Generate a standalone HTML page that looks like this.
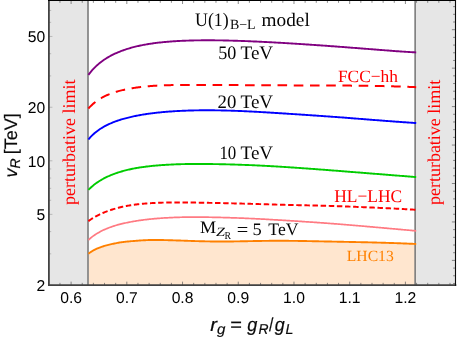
<!DOCTYPE html>
<html>
<head>
<meta charset="utf-8">
<title>U(1) B-L model</title>
<style>
html,body{margin:0;padding:0;background:#fff;}
body{width:457px;height:339px;overflow:hidden;font-family:"Liberation Sans",sans-serif;}
svg{display:block;opacity:0.999;will-change:transform;}
text{white-space:pre;text-rendering:geometricPrecision;}
</style>
</head>
<body>
<svg width="457" height="339" viewBox="0 0 457 339">
<rect x="0" y="0" width="457" height="339" fill="#ffffff"/>

<!-- grey perturbative-limit bands -->
<rect x="48.9" y="0.5" width="39.1" height="284.65" fill="#e6e6e6"/>
<rect x="415.15" y="0.5" width="40.25" height="284.65" fill="#e6e6e6"/>

<!-- LHC13 excluded region -->
<path d="M88.40 253.70 L89.40 252.95 L90.40 252.26 L91.40 251.61 L92.40 251.00 L93.40 250.44 L94.40 249.90 L95.40 249.40 L96.40 248.93 L97.40 248.48 L98.40 248.06 L99.40 247.66 L100.40 247.28 L101.40 246.91 L102.40 246.57 L103.40 246.25 L104.40 245.94 L105.40 245.65 L106.40 245.37 L107.40 245.11 L108.40 244.86 L109.40 244.61 L110.40 244.38 L111.40 244.16 L112.40 243.94 L113.40 243.72 L114.40 243.51 L115.40 243.31 L116.40 243.11 L117.40 242.92 L118.40 242.73 L119.40 242.56 L120.40 242.40 L121.40 242.25 L122.40 242.11 L123.40 241.98 L124.40 241.86 L125.40 241.74 L126.40 241.64 L127.40 241.53 L128.40 241.43 L129.40 241.34 L130.40 241.25 L131.40 241.17 L132.40 241.09 L133.40 241.01 L134.40 240.93 L135.40 240.86 L136.40 240.78 L137.40 240.70 L138.40 240.62 L139.40 240.55 L140.40 240.48 L141.40 240.41 L142.40 240.34 L143.40 240.28 L144.40 240.23 L145.40 240.18 L146.40 240.13 L147.40 240.09 L148.40 240.06 L149.40 240.04 L150.40 240.02 L151.40 240.01 L152.40 240.00 L153.40 239.99 L154.40 239.99 L155.40 239.99 L156.40 239.99 L157.40 239.99 L158.40 240.00 L159.40 240.01 L160.40 240.02 L161.40 240.03 L162.40 240.05 L163.40 240.06 L164.40 240.08 L165.40 240.10 L166.40 240.13 L167.40 240.15 L168.40 240.18 L169.40 240.20 L170.40 240.23 L171.40 240.26 L172.40 240.29 L173.40 240.33 L174.40 240.36 L175.40 240.39 L176.40 240.43 L177.40 240.46 L178.40 240.49 L179.40 240.53 L180.40 240.56 L181.40 240.60 L182.40 240.63 L183.40 240.67 L184.40 240.71 L185.40 240.74 L186.40 240.78 L187.40 240.81 L188.40 240.85 L189.40 240.88 L190.40 240.91 L191.40 240.95 L192.40 240.98 L193.40 241.01 L194.40 241.04 L195.40 241.08 L196.40 241.11 L197.40 241.14 L198.40 241.17 L199.40 241.19 L200.40 241.22 L201.40 241.25 L202.40 241.27 L203.40 241.30 L204.40 241.32 L205.40 241.34 L206.40 241.37 L207.40 241.39 L208.40 241.40 L209.40 241.42 L210.40 241.44 L211.40 241.45 L212.40 241.47 L213.40 241.48 L214.40 241.49 L215.40 241.50 L216.40 241.50 L217.40 241.51 L218.40 241.51 L219.40 241.52 L220.40 241.52 L221.40 241.52 L222.40 241.52 L223.40 241.52 L224.40 241.51 L225.40 241.51 L226.40 241.50 L227.40 241.49 L228.40 241.49 L229.40 241.48 L230.40 241.47 L231.40 241.45 L232.40 241.44 L233.40 241.43 L234.40 241.42 L235.40 241.40 L236.40 241.39 L237.40 241.37 L238.40 241.36 L239.40 241.34 L240.40 241.32 L241.40 241.30 L242.40 241.29 L243.40 241.27 L244.40 241.25 L245.40 241.23 L246.40 241.21 L247.40 241.19 L248.40 241.17 L249.40 241.15 L250.40 241.13 L251.40 241.11 L252.40 241.09 L253.40 241.07 L254.40 241.05 L255.40 241.04 L256.40 241.02 L257.40 241.00 L258.40 240.98 L259.40 240.96 L260.40 240.95 L261.40 240.93 L262.40 240.91 L263.40 240.90 L264.40 240.88 L265.40 240.87 L266.40 240.86 L267.40 240.84 L268.40 240.83 L269.40 240.82 L270.40 240.81 L271.40 240.80 L272.40 240.80 L273.40 240.79 L274.40 240.79 L275.40 240.78 L276.40 240.78 L277.40 240.78 L278.40 240.78 L279.40 240.78 L280.40 240.78 L281.40 240.78 L282.40 240.78 L283.40 240.79 L284.40 240.79 L285.40 240.80 L286.40 240.80 L287.40 240.81 L288.40 240.82 L289.40 240.83 L290.40 240.84 L291.40 240.85 L292.40 240.86 L293.40 240.87 L294.40 240.88 L295.40 240.90 L296.40 240.91 L297.40 240.92 L298.40 240.94 L299.40 240.95 L300.40 240.97 L301.40 240.99 L302.40 241.00 L303.40 241.02 L304.40 241.04 L305.40 241.05 L306.40 241.07 L307.40 241.09 L308.40 241.11 L309.40 241.13 L310.40 241.15 L311.40 241.17 L312.40 241.19 L313.40 241.21 L314.40 241.23 L315.40 241.25 L316.40 241.27 L317.40 241.29 L318.40 241.31 L319.40 241.33 L320.40 241.35 L321.40 241.37 L322.40 241.39 L323.40 241.41 L324.40 241.43 L325.40 241.45 L326.40 241.47 L327.40 241.49 L328.40 241.51 L329.40 241.53 L330.40 241.55 L331.40 241.57 L332.40 241.59 L333.40 241.61 L334.40 241.63 L335.40 241.65 L336.40 241.67 L337.40 241.69 L338.40 241.71 L339.40 241.73 L340.40 241.75 L341.40 241.77 L342.40 241.79 L343.40 241.81 L344.40 241.83 L345.40 241.85 L346.40 241.87 L347.40 241.89 L348.40 241.91 L349.40 241.93 L350.40 241.95 L351.40 241.97 L352.40 241.99 L353.40 242.01 L354.40 242.03 L355.40 242.06 L356.40 242.08 L357.40 242.10 L358.40 242.12 L359.40 242.14 L360.40 242.16 L361.40 242.19 L362.40 242.21 L363.40 242.23 L364.40 242.25 L365.40 242.28 L366.40 242.30 L367.40 242.32 L368.40 242.35 L369.40 242.37 L370.40 242.40 L371.40 242.42 L372.40 242.45 L373.40 242.47 L374.40 242.50 L375.40 242.52 L376.40 242.55 L377.40 242.58 L378.40 242.60 L379.40 242.63 L380.40 242.66 L381.40 242.69 L382.40 242.72 L383.40 242.75 L384.40 242.78 L385.40 242.81 L386.40 242.84 L387.40 242.87 L388.40 242.90 L389.40 242.93 L390.40 242.96 L391.40 243.00 L392.40 243.03 L393.40 243.06 L394.40 243.10 L395.40 243.13 L396.40 243.17 L397.40 243.20 L398.40 243.24 L399.40 243.28 L400.40 243.31 L401.40 243.35 L402.40 243.39 L403.40 243.43 L404.40 243.47 L405.40 243.51 L406.40 243.55 L407.40 243.59 L408.40 243.64 L409.40 243.68 L410.40 243.72 L411.40 243.77 L412.40 243.81 L413.40 243.86 L414.40 243.91 L415.40 243.95 L416.20 243.99 L416.20 285.15 L88.40 285.15 Z" fill="#ffe6cf" stroke="none"/>

<!-- band edge lines -->
<g stroke="#828282" stroke-width="1.7" fill="none">
<path d="M88.0 0.5 V285.15"/>
<path d="M415.15 0.5 V285.15"/>
</g>

<!-- curves -->
<g fill="none" stroke-linecap="butt" stroke-linejoin="round">
<path d="M88.40 253.70 L89.40 252.95 L90.40 252.26 L91.40 251.61 L92.40 251.00 L93.40 250.44 L94.40 249.90 L95.40 249.40 L96.40 248.93 L97.40 248.48 L98.40 248.06 L99.40 247.66 L100.40 247.28 L101.40 246.91 L102.40 246.57 L103.40 246.25 L104.40 245.94 L105.40 245.65 L106.40 245.37 L107.40 245.11 L108.40 244.86 L109.40 244.61 L110.40 244.38 L111.40 244.16 L112.40 243.94 L113.40 243.72 L114.40 243.51 L115.40 243.31 L116.40 243.11 L117.40 242.92 L118.40 242.73 L119.40 242.56 L120.40 242.40 L121.40 242.25 L122.40 242.11 L123.40 241.98 L124.40 241.86 L125.40 241.74 L126.40 241.64 L127.40 241.53 L128.40 241.43 L129.40 241.34 L130.40 241.25 L131.40 241.17 L132.40 241.09 L133.40 241.01 L134.40 240.93 L135.40 240.86 L136.40 240.78 L137.40 240.70 L138.40 240.62 L139.40 240.55 L140.40 240.48 L141.40 240.41 L142.40 240.34 L143.40 240.28 L144.40 240.23 L145.40 240.18 L146.40 240.13 L147.40 240.09 L148.40 240.06 L149.40 240.04 L150.40 240.02 L151.40 240.01 L152.40 240.00 L153.40 239.99 L154.40 239.99 L155.40 239.99 L156.40 239.99 L157.40 239.99 L158.40 240.00 L159.40 240.01 L160.40 240.02 L161.40 240.03 L162.40 240.05 L163.40 240.06 L164.40 240.08 L165.40 240.10 L166.40 240.13 L167.40 240.15 L168.40 240.18 L169.40 240.20 L170.40 240.23 L171.40 240.26 L172.40 240.29 L173.40 240.33 L174.40 240.36 L175.40 240.39 L176.40 240.43 L177.40 240.46 L178.40 240.49 L179.40 240.53 L180.40 240.56 L181.40 240.60 L182.40 240.63 L183.40 240.67 L184.40 240.71 L185.40 240.74 L186.40 240.78 L187.40 240.81 L188.40 240.85 L189.40 240.88 L190.40 240.91 L191.40 240.95 L192.40 240.98 L193.40 241.01 L194.40 241.04 L195.40 241.08 L196.40 241.11 L197.40 241.14 L198.40 241.17 L199.40 241.19 L200.40 241.22 L201.40 241.25 L202.40 241.27 L203.40 241.30 L204.40 241.32 L205.40 241.34 L206.40 241.37 L207.40 241.39 L208.40 241.40 L209.40 241.42 L210.40 241.44 L211.40 241.45 L212.40 241.47 L213.40 241.48 L214.40 241.49 L215.40 241.50 L216.40 241.50 L217.40 241.51 L218.40 241.51 L219.40 241.52 L220.40 241.52 L221.40 241.52 L222.40 241.52 L223.40 241.52 L224.40 241.51 L225.40 241.51 L226.40 241.50 L227.40 241.49 L228.40 241.49 L229.40 241.48 L230.40 241.47 L231.40 241.45 L232.40 241.44 L233.40 241.43 L234.40 241.42 L235.40 241.40 L236.40 241.39 L237.40 241.37 L238.40 241.36 L239.40 241.34 L240.40 241.32 L241.40 241.30 L242.40 241.29 L243.40 241.27 L244.40 241.25 L245.40 241.23 L246.40 241.21 L247.40 241.19 L248.40 241.17 L249.40 241.15 L250.40 241.13 L251.40 241.11 L252.40 241.09 L253.40 241.07 L254.40 241.05 L255.40 241.04 L256.40 241.02 L257.40 241.00 L258.40 240.98 L259.40 240.96 L260.40 240.95 L261.40 240.93 L262.40 240.91 L263.40 240.90 L264.40 240.88 L265.40 240.87 L266.40 240.86 L267.40 240.84 L268.40 240.83 L269.40 240.82 L270.40 240.81 L271.40 240.80 L272.40 240.80 L273.40 240.79 L274.40 240.79 L275.40 240.78 L276.40 240.78 L277.40 240.78 L278.40 240.78 L279.40 240.78 L280.40 240.78 L281.40 240.78 L282.40 240.78 L283.40 240.79 L284.40 240.79 L285.40 240.80 L286.40 240.80 L287.40 240.81 L288.40 240.82 L289.40 240.83 L290.40 240.84 L291.40 240.85 L292.40 240.86 L293.40 240.87 L294.40 240.88 L295.40 240.90 L296.40 240.91 L297.40 240.92 L298.40 240.94 L299.40 240.95 L300.40 240.97 L301.40 240.99 L302.40 241.00 L303.40 241.02 L304.40 241.04 L305.40 241.05 L306.40 241.07 L307.40 241.09 L308.40 241.11 L309.40 241.13 L310.40 241.15 L311.40 241.17 L312.40 241.19 L313.40 241.21 L314.40 241.23 L315.40 241.25 L316.40 241.27 L317.40 241.29 L318.40 241.31 L319.40 241.33 L320.40 241.35 L321.40 241.37 L322.40 241.39 L323.40 241.41 L324.40 241.43 L325.40 241.45 L326.40 241.47 L327.40 241.49 L328.40 241.51 L329.40 241.53 L330.40 241.55 L331.40 241.57 L332.40 241.59 L333.40 241.61 L334.40 241.63 L335.40 241.65 L336.40 241.67 L337.40 241.69 L338.40 241.71 L339.40 241.73 L340.40 241.75 L341.40 241.77 L342.40 241.79 L343.40 241.81 L344.40 241.83 L345.40 241.85 L346.40 241.87 L347.40 241.89 L348.40 241.91 L349.40 241.93 L350.40 241.95 L351.40 241.97 L352.40 241.99 L353.40 242.01 L354.40 242.03 L355.40 242.06 L356.40 242.08 L357.40 242.10 L358.40 242.12 L359.40 242.14 L360.40 242.16 L361.40 242.19 L362.40 242.21 L363.40 242.23 L364.40 242.25 L365.40 242.28 L366.40 242.30 L367.40 242.32 L368.40 242.35 L369.40 242.37 L370.40 242.40 L371.40 242.42 L372.40 242.45 L373.40 242.47 L374.40 242.50 L375.40 242.52 L376.40 242.55 L377.40 242.58 L378.40 242.60 L379.40 242.63 L380.40 242.66 L381.40 242.69 L382.40 242.72 L383.40 242.75 L384.40 242.78 L385.40 242.81 L386.40 242.84 L387.40 242.87 L388.40 242.90 L389.40 242.93 L390.40 242.96 L391.40 243.00 L392.40 243.03 L393.40 243.06 L394.40 243.10 L395.40 243.13 L396.40 243.17 L397.40 243.20 L398.40 243.24 L399.40 243.28 L400.40 243.31 L401.40 243.35 L402.40 243.39 L403.40 243.43 L404.40 243.47 L405.40 243.51 L406.40 243.55 L407.40 243.59 L408.40 243.64 L409.40 243.68 L410.40 243.72 L411.40 243.77 L412.40 243.81 L413.40 243.86 L414.40 243.91 L415.40 243.95 L416.20 243.99" stroke="#ff8000" stroke-width="1.9"/>
<path d="M88.40 240.08 L89.40 239.14 L90.40 238.26 L91.40 237.43 L92.40 236.65 L93.40 235.91 L94.40 235.21 L95.40 234.54 L96.40 233.90 L97.40 233.29 L98.40 232.71 L99.40 232.14 L100.40 231.59 L101.40 231.07 L102.40 230.57 L103.40 230.09 L104.40 229.62 L105.40 229.18 L106.40 228.75 L107.40 228.34 L108.40 227.94 L109.40 227.56 L110.40 227.19 L111.40 226.83 L112.40 226.49 L113.40 226.15 L114.40 225.83 L115.40 225.52 L116.40 225.22 L117.40 224.94 L118.40 224.66 L119.40 224.39 L120.40 224.14 L121.40 223.89 L122.40 223.65 L123.40 223.42 L124.40 223.20 L125.40 222.98 L126.40 222.77 L127.40 222.56 L128.40 222.36 L129.40 222.16 L130.40 221.97 L131.40 221.78 L132.40 221.60 L133.40 221.42 L134.40 221.25 L135.40 221.08 L136.40 220.92 L137.40 220.76 L138.40 220.61 L139.40 220.46 L140.40 220.32 L141.40 220.18 L142.40 220.04 L143.40 219.91 L144.40 219.78 L145.40 219.66 L146.40 219.54 L147.40 219.43 L148.40 219.32 L149.40 219.21 L150.40 219.10 L151.40 219.00 L152.40 218.90 L153.40 218.81 L154.40 218.72 L155.40 218.63 L156.40 218.54 L157.40 218.46 L158.40 218.38 L159.40 218.30 L160.40 218.23 L161.40 218.16 L162.40 218.09 L163.40 218.02 L164.40 217.96 L165.40 217.90 L166.40 217.84 L167.40 217.78 L168.40 217.73 L169.40 217.67 L170.40 217.63 L171.40 217.58 L172.40 217.53 L173.40 217.49 L174.40 217.45 L175.40 217.42 L176.40 217.38 L177.40 217.35 L178.40 217.32 L179.40 217.29 L180.40 217.27 L181.40 217.24 L182.40 217.22 L183.40 217.20 L184.40 217.18 L185.40 217.17 L186.40 217.15 L187.40 217.14 L188.40 217.13 L189.40 217.12 L190.40 217.11 L191.40 217.11 L192.40 217.10 L193.40 217.10 L194.40 217.10 L195.40 217.10 L196.40 217.10 L197.40 217.10 L198.40 217.11 L199.40 217.11 L200.40 217.12 L201.40 217.13 L202.40 217.14 L203.40 217.15 L204.40 217.16 L205.40 217.17 L206.40 217.18 L207.40 217.20 L208.40 217.21 L209.40 217.23 L210.40 217.24 L211.40 217.26 L212.40 217.28 L213.40 217.30 L214.40 217.32 L215.40 217.34 L216.40 217.36 L217.40 217.38 L218.40 217.41 L219.40 217.43 L220.40 217.46 L221.40 217.48 L222.40 217.51 L223.40 217.53 L224.40 217.56 L225.40 217.59 L226.40 217.62 L227.40 217.65 L228.40 217.68 L229.40 217.71 L230.40 217.74 L231.40 217.78 L232.40 217.81 L233.40 217.84 L234.40 217.88 L235.40 217.91 L236.40 217.95 L237.40 217.99 L238.40 218.02 L239.40 218.06 L240.40 218.10 L241.40 218.14 L242.40 218.18 L243.40 218.22 L244.40 218.26 L245.40 218.30 L246.40 218.35 L247.40 218.39 L248.40 218.43 L249.40 218.48 L250.40 218.52 L251.40 218.57 L252.40 218.62 L253.40 218.66 L254.40 218.71 L255.40 218.76 L256.40 218.81 L257.40 218.86 L258.40 218.91 L259.40 218.96 L260.40 219.01 L261.40 219.06 L262.40 219.11 L263.40 219.16 L264.40 219.22 L265.40 219.27 L266.40 219.33 L267.40 219.38 L268.40 219.44 L269.40 219.49 L270.40 219.55 L271.40 219.61 L272.40 219.67 L273.40 219.73 L274.40 219.79 L275.40 219.85 L276.40 219.91 L277.40 219.97 L278.40 220.03 L279.40 220.09 L280.40 220.15 L281.40 220.21 L282.40 220.27 L283.40 220.33 L284.40 220.39 L285.40 220.45 L286.40 220.51 L287.40 220.58 L288.40 220.64 L289.40 220.70 L290.40 220.76 L291.40 220.83 L292.40 220.89 L293.40 220.95 L294.40 221.02 L295.40 221.08 L296.40 221.14 L297.40 221.21 L298.40 221.27 L299.40 221.33 L300.40 221.40 L301.40 221.46 L302.40 221.53 L303.40 221.59 L304.40 221.66 L305.40 221.73 L306.40 221.79 L307.40 221.86 L308.40 221.93 L309.40 221.99 L310.40 222.06 L311.40 222.13 L312.40 222.20 L313.40 222.26 L314.40 222.33 L315.40 222.40 L316.40 222.47 L317.40 222.54 L318.40 222.61 L319.40 222.68 L320.40 222.75 L321.40 222.82 L322.40 222.90 L323.40 222.97 L324.40 223.04 L325.40 223.11 L326.40 223.19 L327.40 223.26 L328.40 223.33 L329.40 223.41 L330.40 223.48 L331.40 223.56 L332.40 223.63 L333.40 223.71 L334.40 223.79 L335.40 223.86 L336.40 223.94 L337.40 224.02 L338.40 224.10 L339.40 224.18 L340.40 224.26 L341.40 224.34 L342.40 224.42 L343.40 224.50 L344.40 224.58 L345.40 224.66 L346.40 224.74 L347.40 224.83 L348.40 224.91 L349.40 224.99 L350.40 225.08 L351.40 225.16 L352.40 225.24 L353.40 225.33 L354.40 225.41 L355.40 225.50 L356.40 225.58 L357.40 225.67 L358.40 225.75 L359.40 225.84 L360.40 225.92 L361.40 226.01 L362.40 226.10 L363.40 226.18 L364.40 226.27 L365.40 226.36 L366.40 226.44 L367.40 226.53 L368.40 226.62 L369.40 226.70 L370.40 226.79 L371.40 226.88 L372.40 226.97 L373.40 227.06 L374.40 227.14 L375.40 227.23 L376.40 227.32 L377.40 227.41 L378.40 227.50 L379.40 227.59 L380.40 227.67 L381.40 227.76 L382.40 227.85 L383.40 227.94 L384.40 228.03 L385.40 228.12 L386.40 228.21 L387.40 228.30 L388.40 228.39 L389.40 228.48 L390.40 228.57 L391.40 228.66 L392.40 228.74 L393.40 228.83 L394.40 228.92 L395.40 229.01 L396.40 229.10 L397.40 229.19 L398.40 229.28 L399.40 229.37 L400.40 229.46 L401.40 229.55 L402.40 229.64 L403.40 229.73 L404.40 229.82 L405.40 229.91 L406.40 230.00 L407.40 230.09 L408.40 230.18 L409.40 230.26 L410.40 230.35 L411.40 230.44 L412.40 230.53 L413.40 230.62 L414.40 230.71 L415.40 230.80 L416.20 230.87" stroke="#ff7a82" stroke-width="1.7"/>
<path d="M88.40 221.11 L89.40 220.40 L90.40 219.71 L91.40 219.05 L92.40 218.42 L93.40 217.81 L94.40 217.22 L95.40 216.65 L96.40 216.10 L97.40 215.57 L98.40 215.06 L99.40 214.57 L100.40 214.10 L101.40 213.64 L102.40 213.19 L103.40 212.76 L104.40 212.35 L105.40 211.95 L106.40 211.56 L107.40 211.18 L108.40 210.82 L109.40 210.47 L110.40 210.13 L111.40 209.80 L112.40 209.48 L113.40 209.17 L114.40 208.87 L115.40 208.58 L116.40 208.30 L117.40 208.04 L118.40 207.78 L119.40 207.52 L120.40 207.28 L121.40 207.05 L122.40 206.82 L123.40 206.61 L124.40 206.40 L125.40 206.20 L126.40 206.00 L127.40 205.82 L128.40 205.64 L129.40 205.47 L130.40 205.30 L131.40 205.15 L132.40 205.00 L133.40 204.85 L134.40 204.71 L135.40 204.58 L136.40 204.46 L137.40 204.33 L138.40 204.22 L139.40 204.11 L140.40 204.00 L141.40 203.90 L142.40 203.81 L143.40 203.71 L144.40 203.63 L145.40 203.54 L146.40 203.47 L147.40 203.39 L148.40 203.32 L149.40 203.25 L150.40 203.19 L151.40 203.13 L152.40 203.07 L153.40 203.02 L154.40 202.97 L155.40 202.92 L156.40 202.87 L157.40 202.83 L158.40 202.79 L159.40 202.75 L160.40 202.72 L161.40 202.68 L162.40 202.65 L163.40 202.62 L164.40 202.60 L165.40 202.57 L166.40 202.55 L167.40 202.53 L168.40 202.51 L169.40 202.49 L170.40 202.47 L171.40 202.46 L172.40 202.45 L173.40 202.44 L174.40 202.43 L175.40 202.42 L176.40 202.42 L177.40 202.41 L178.40 202.41 L179.40 202.41 L180.40 202.42 L181.40 202.42 L182.40 202.42 L183.40 202.43 L184.40 202.44 L185.40 202.45 L186.40 202.46 L187.40 202.47 L188.40 202.48 L189.40 202.49 L190.40 202.51 L191.40 202.52 L192.40 202.54 L193.40 202.55 L194.40 202.57 L195.40 202.59 L196.40 202.61 L197.40 202.62 L198.40 202.64 L199.40 202.66 L200.40 202.68 L201.40 202.70 L202.40 202.72 L203.40 202.74 L204.40 202.76 L205.40 202.78 L206.40 202.80 L207.40 202.81 L208.40 202.83 L209.40 202.85 L210.40 202.87 L211.40 202.89 L212.40 202.91 L213.40 202.93 L214.40 202.95 L215.40 202.97 L216.40 202.99 L217.40 203.01 L218.40 203.03 L219.40 203.05 L220.40 203.07 L221.40 203.09 L222.40 203.12 L223.40 203.14 L224.40 203.16 L225.40 203.19 L226.40 203.21 L227.40 203.23 L228.40 203.26 L229.40 203.28 L230.40 203.31 L231.40 203.33 L232.40 203.36 L233.40 203.38 L234.40 203.41 L235.40 203.43 L236.40 203.46 L237.40 203.49 L238.40 203.51 L239.40 203.54 L240.40 203.57 L241.40 203.59 L242.40 203.62 L243.40 203.65 L244.40 203.68 L245.40 203.70 L246.40 203.73 L247.40 203.76 L248.40 203.79 L249.40 203.81 L250.40 203.84 L251.40 203.87 L252.40 203.90 L253.40 203.93 L254.40 203.96 L255.40 203.98 L256.40 204.01 L257.40 204.04 L258.40 204.07 L259.40 204.10 L260.40 204.13 L261.40 204.16 L262.40 204.19 L263.40 204.22 L264.40 204.24 L265.40 204.27 L266.40 204.30 L267.40 204.33 L268.40 204.36 L269.40 204.39 L270.40 204.42 L271.40 204.45 L272.40 204.48 L273.40 204.51 L274.40 204.54 L275.40 204.57 L276.40 204.60 L277.40 204.63 L278.40 204.66 L279.40 204.69 L280.40 204.72 L281.40 204.75 L282.40 204.78 L283.40 204.80 L284.40 204.83 L285.40 204.86 L286.40 204.88 L287.40 204.91 L288.40 204.94 L289.40 204.96 L290.40 204.99 L291.40 205.01 L292.40 205.03 L293.40 205.06 L294.40 205.08 L295.40 205.10 L296.40 205.13 L297.40 205.15 L298.40 205.17 L299.40 205.19 L300.40 205.22 L301.40 205.24 L302.40 205.26 L303.40 205.28 L304.40 205.30 L305.40 205.32 L306.40 205.34 L307.40 205.37 L308.40 205.39 L309.40 205.41 L310.40 205.43 L311.40 205.45 L312.40 205.48 L313.40 205.50 L314.40 205.52 L315.40 205.54 L316.40 205.57 L317.40 205.59 L318.40 205.61 L319.40 205.64 L320.40 205.66 L321.40 205.68 L322.40 205.71 L323.40 205.74 L324.40 205.76 L325.40 205.79 L326.40 205.82 L327.40 205.84 L328.40 205.87 L329.40 205.90 L330.40 205.93 L331.40 205.96 L332.40 205.99 L333.40 206.02 L334.40 206.05 L335.40 206.09 L336.40 206.12 L337.40 206.16 L338.40 206.19 L339.40 206.23 L340.40 206.27 L341.40 206.30 L342.40 206.34 L343.40 206.38 L344.40 206.42 L345.40 206.46 L346.40 206.49 L347.40 206.53 L348.40 206.57 L349.40 206.61 L350.40 206.65 L351.40 206.69 L352.40 206.73 L353.40 206.77 L354.40 206.80 L355.40 206.84 L356.40 206.88 L357.40 206.92 L358.40 206.96 L359.40 207.00 L360.40 207.05 L361.40 207.09 L362.40 207.13 L363.40 207.17 L364.40 207.21 L365.40 207.25 L366.40 207.29 L367.40 207.34 L368.40 207.38 L369.40 207.42 L370.40 207.46 L371.40 207.51 L372.40 207.55 L373.40 207.59 L374.40 207.64 L375.40 207.68 L376.40 207.73 L377.40 207.77 L378.40 207.82 L379.40 207.86 L380.40 207.91 L381.40 207.96 L382.40 208.00 L383.40 208.05 L384.40 208.10 L385.40 208.14 L386.40 208.19 L387.40 208.24 L388.40 208.29 L389.40 208.34 L390.40 208.39 L391.40 208.44 L392.40 208.49 L393.40 208.54 L394.40 208.59 L395.40 208.64 L396.40 208.69 L397.40 208.75 L398.40 208.80 L399.40 208.85 L400.40 208.91 L401.40 208.96 L402.40 209.02 L403.40 209.07 L404.40 209.13 L405.40 209.18 L406.40 209.24 L407.40 209.30 L408.40 209.36 L409.40 209.41 L410.40 209.47 L411.40 209.53 L412.40 209.59 L413.40 209.65 L414.40 209.72 L415.40 209.78 L416.20 209.83" stroke="#ff0000" stroke-width="1.95" stroke-dasharray="5.47 2.657"/>
<path d="M88.40 189.95 L89.40 188.95 L90.40 187.99 L91.40 187.07 L92.40 186.20 L93.40 185.36 L94.40 184.57 L95.40 183.80 L96.40 183.07 L97.40 182.37 L98.40 181.70 L99.40 181.06 L100.40 180.44 L101.40 179.84 L102.40 179.27 L103.40 178.71 L104.40 178.18 L105.40 177.67 L106.40 177.18 L107.40 176.70 L108.40 176.24 L109.40 175.80 L110.40 175.37 L111.40 174.96 L112.40 174.56 L113.40 174.17 L114.40 173.80 L115.40 173.44 L116.40 173.09 L117.40 172.75 L118.40 172.42 L119.40 172.11 L120.40 171.80 L121.40 171.50 L122.40 171.22 L123.40 170.94 L124.40 170.67 L125.40 170.41 L126.40 170.16 L127.40 169.91 L128.40 169.68 L129.40 169.45 L130.40 169.22 L131.40 169.01 L132.40 168.80 L133.40 168.60 L134.40 168.41 L135.40 168.22 L136.40 168.04 L137.40 167.87 L138.40 167.70 L139.40 167.54 L140.40 167.39 L141.40 167.24 L142.40 167.09 L143.40 166.95 L144.40 166.82 L145.40 166.69 L146.40 166.56 L147.40 166.44 L148.40 166.32 L149.40 166.21 L150.40 166.10 L151.40 166.00 L152.40 165.90 L153.40 165.80 L154.40 165.70 L155.40 165.61 L156.40 165.53 L157.40 165.44 L158.40 165.36 L159.40 165.29 L160.40 165.21 L161.40 165.14 L162.40 165.07 L163.40 165.00 L164.40 164.94 L165.40 164.87 L166.40 164.81 L167.40 164.75 L168.40 164.70 L169.40 164.64 L170.40 164.59 L171.40 164.54 L172.40 164.49 L173.40 164.44 L174.40 164.40 L175.40 164.36 L176.40 164.32 L177.40 164.28 L178.40 164.25 L179.40 164.22 L180.40 164.18 L181.40 164.16 L182.40 164.13 L183.40 164.10 L184.40 164.08 L185.40 164.06 L186.40 164.04 L187.40 164.02 L188.40 164.01 L189.40 163.99 L190.40 163.98 L191.40 163.97 L192.40 163.96 L193.40 163.95 L194.40 163.94 L195.40 163.94 L196.40 163.94 L197.40 163.93 L198.40 163.93 L199.40 163.93 L200.40 163.94 L201.40 163.94 L202.40 163.94 L203.40 163.95 L204.40 163.96 L205.40 163.97 L206.40 163.98 L207.40 163.99 L208.40 164.00 L209.40 164.01 L210.40 164.03 L211.40 164.04 L212.40 164.06 L213.40 164.08 L214.40 164.09 L215.40 164.11 L216.40 164.13 L217.40 164.15 L218.40 164.17 L219.40 164.19 L220.40 164.21 L221.40 164.23 L222.40 164.25 L223.40 164.28 L224.40 164.30 L225.40 164.32 L226.40 164.35 L227.40 164.37 L228.40 164.40 L229.40 164.42 L230.40 164.45 L231.40 164.48 L232.40 164.51 L233.40 164.54 L234.40 164.57 L235.40 164.60 L236.40 164.63 L237.40 164.66 L238.40 164.69 L239.40 164.72 L240.40 164.76 L241.40 164.79 L242.40 164.83 L243.40 164.86 L244.40 164.90 L245.40 164.94 L246.40 164.97 L247.40 165.01 L248.40 165.05 L249.40 165.09 L250.40 165.13 L251.40 165.17 L252.40 165.22 L253.40 165.26 L254.40 165.30 L255.40 165.35 L256.40 165.39 L257.40 165.44 L258.40 165.49 L259.40 165.53 L260.40 165.58 L261.40 165.63 L262.40 165.68 L263.40 165.73 L264.40 165.79 L265.40 165.84 L266.40 165.89 L267.40 165.95 L268.40 166.00 L269.40 166.06 L270.40 166.12 L271.40 166.18 L272.40 166.24 L273.40 166.29 L274.40 166.35 L275.40 166.41 L276.40 166.47 L277.40 166.54 L278.40 166.60 L279.40 166.66 L280.40 166.72 L281.40 166.79 L282.40 166.85 L283.40 166.91 L284.40 166.98 L285.40 167.04 L286.40 167.11 L287.40 167.17 L288.40 167.24 L289.40 167.30 L290.40 167.37 L291.40 167.44 L292.40 167.51 L293.40 167.57 L294.40 167.64 L295.40 167.71 L296.40 167.78 L297.40 167.85 L298.40 167.92 L299.40 167.99 L300.40 168.06 L301.40 168.13 L302.40 168.20 L303.40 168.27 L304.40 168.34 L305.40 168.41 L306.40 168.48 L307.40 168.56 L308.40 168.63 L309.40 168.70 L310.40 168.77 L311.40 168.85 L312.40 168.92 L313.40 168.99 L314.40 169.07 L315.40 169.14 L316.40 169.22 L317.40 169.29 L318.40 169.37 L319.40 169.44 L320.40 169.52 L321.40 169.59 L322.40 169.67 L323.40 169.74 L324.40 169.82 L325.40 169.90 L326.40 169.97 L327.40 170.05 L328.40 170.13 L329.40 170.20 L330.40 170.28 L331.40 170.36 L332.40 170.44 L333.40 170.51 L334.40 170.59 L335.40 170.67 L336.40 170.75 L337.40 170.82 L338.40 170.90 L339.40 170.98 L340.40 171.06 L341.40 171.14 L342.40 171.22 L343.40 171.30 L344.40 171.38 L345.40 171.45 L346.40 171.53 L347.40 171.61 L348.40 171.69 L349.40 171.77 L350.40 171.85 L351.40 171.93 L352.40 172.01 L353.40 172.09 L354.40 172.17 L355.40 172.25 L356.40 172.33 L357.40 172.41 L358.40 172.49 L359.40 172.57 L360.40 172.65 L361.40 172.72 L362.40 172.80 L363.40 172.88 L364.40 172.96 L365.40 173.04 L366.40 173.12 L367.40 173.20 L368.40 173.28 L369.40 173.36 L370.40 173.44 L371.40 173.52 L372.40 173.60 L373.40 173.68 L374.40 173.76 L375.40 173.84 L376.40 173.92 L377.40 174.00 L378.40 174.07 L379.40 174.15 L380.40 174.23 L381.40 174.31 L382.40 174.39 L383.40 174.47 L384.40 174.55 L385.40 174.63 L386.40 174.71 L387.40 174.79 L388.40 174.87 L389.40 174.95 L390.40 175.03 L391.40 175.11 L392.40 175.19 L393.40 175.27 L394.40 175.35 L395.40 175.43 L396.40 175.51 L397.40 175.59 L398.40 175.67 L399.40 175.75 L400.40 175.83 L401.40 175.91 L402.40 175.99 L403.40 176.07 L404.40 176.16 L405.40 176.24 L406.40 176.32 L407.40 176.40 L408.40 176.48 L409.40 176.56 L410.40 176.64 L411.40 176.72 L412.40 176.80 L413.40 176.89 L414.40 176.97 L415.40 177.05 L416.20 177.11" stroke="#00cc00" stroke-width="1.9"/>
<path d="M88.40 139.49 L89.40 138.29 L90.40 137.17 L91.40 136.11 L92.40 135.12 L93.40 134.19 L94.40 133.30 L95.40 132.47 L96.40 131.67 L97.40 130.91 L98.40 130.19 L99.40 129.49 L100.40 128.83 L101.40 128.20 L102.40 127.59 L103.40 127.01 L104.40 126.45 L105.40 125.91 L106.40 125.39 L107.40 124.89 L108.40 124.41 L109.40 123.94 L110.40 123.50 L111.40 123.06 L112.40 122.64 L113.40 122.24 L114.40 121.84 L115.40 121.47 L116.40 121.10 L117.40 120.75 L118.40 120.41 L119.40 120.08 L120.40 119.76 L121.40 119.45 L122.40 119.16 L123.40 118.87 L124.40 118.59 L125.40 118.32 L126.40 118.06 L127.40 117.80 L128.40 117.55 L129.40 117.31 L130.40 117.07 L131.40 116.84 L132.40 116.61 L133.40 116.39 L134.40 116.18 L135.40 115.97 L136.40 115.77 L137.40 115.58 L138.40 115.39 L139.40 115.20 L140.40 115.03 L141.40 114.85 L142.40 114.68 L143.40 114.52 L144.40 114.36 L145.40 114.20 L146.40 114.05 L147.40 113.90 L148.40 113.76 L149.40 113.62 L150.40 113.49 L151.40 113.36 L152.40 113.23 L153.40 113.11 L154.40 112.99 L155.40 112.87 L156.40 112.76 L157.40 112.65 L158.40 112.54 L159.40 112.44 L160.40 112.34 L161.40 112.24 L162.40 112.15 L163.40 112.06 L164.40 111.97 L165.40 111.89 L166.40 111.80 L167.40 111.72 L168.40 111.65 L169.40 111.57 L170.40 111.50 L171.40 111.43 L172.40 111.36 L173.40 111.30 L174.40 111.24 L175.40 111.17 L176.40 111.12 L177.40 111.06 L178.40 111.00 L179.40 110.95 L180.40 110.90 L181.40 110.85 L182.40 110.81 L183.40 110.76 L184.40 110.72 L185.40 110.68 L186.40 110.64 L187.40 110.60 L188.40 110.57 L189.40 110.54 L190.40 110.51 L191.40 110.48 L192.40 110.45 L193.40 110.43 L194.40 110.40 L195.40 110.38 L196.40 110.36 L197.40 110.34 L198.40 110.33 L199.40 110.31 L200.40 110.30 L201.40 110.29 L202.40 110.28 L203.40 110.28 L204.40 110.27 L205.40 110.27 L206.40 110.27 L207.40 110.27 L208.40 110.27 L209.40 110.27 L210.40 110.28 L211.40 110.29 L212.40 110.30 L213.40 110.31 L214.40 110.32 L215.40 110.33 L216.40 110.34 L217.40 110.36 L218.40 110.38 L219.40 110.39 L220.40 110.41 L221.40 110.43 L222.40 110.46 L223.40 110.48 L224.40 110.50 L225.40 110.53 L226.40 110.55 L227.40 110.58 L228.40 110.61 L229.40 110.64 L230.40 110.67 L231.40 110.70 L232.40 110.73 L233.40 110.77 L234.40 110.80 L235.40 110.84 L236.40 110.87 L237.40 110.91 L238.40 110.95 L239.40 110.99 L240.40 111.03 L241.40 111.07 L242.40 111.12 L243.40 111.16 L244.40 111.20 L245.40 111.25 L246.40 111.29 L247.40 111.34 L248.40 111.39 L249.40 111.44 L250.40 111.49 L251.40 111.54 L252.40 111.59 L253.40 111.64 L254.40 111.69 L255.40 111.74 L256.40 111.80 L257.40 111.85 L258.40 111.91 L259.40 111.96 L260.40 112.02 L261.40 112.08 L262.40 112.14 L263.40 112.19 L264.40 112.25 L265.40 112.31 L266.40 112.37 L267.40 112.44 L268.40 112.50 L269.40 112.56 L270.40 112.62 L271.40 112.69 L272.40 112.75 L273.40 112.81 L274.40 112.88 L275.40 112.94 L276.40 113.00 L277.40 113.06 L278.40 113.13 L279.40 113.19 L280.40 113.25 L281.40 113.32 L282.40 113.38 L283.40 113.45 L284.40 113.51 L285.40 113.57 L286.40 113.64 L287.40 113.70 L288.40 113.76 L289.40 113.83 L290.40 113.89 L291.40 113.96 L292.40 114.02 L293.40 114.09 L294.40 114.15 L295.40 114.22 L296.40 114.28 L297.40 114.35 L298.40 114.41 L299.40 114.48 L300.40 114.54 L301.40 114.61 L302.40 114.68 L303.40 114.74 L304.40 114.81 L305.40 114.88 L306.40 114.95 L307.40 115.01 L308.40 115.08 L309.40 115.15 L310.40 115.22 L311.40 115.29 L312.40 115.36 L313.40 115.43 L314.40 115.50 L315.40 115.57 L316.40 115.64 L317.40 115.71 L318.40 115.78 L319.40 115.85 L320.40 115.92 L321.40 116.00 L322.40 116.07 L323.40 116.14 L324.40 116.21 L325.40 116.28 L326.40 116.35 L327.40 116.42 L328.40 116.49 L329.40 116.56 L330.40 116.63 L331.40 116.70 L332.40 116.77 L333.40 116.84 L334.40 116.91 L335.40 116.98 L336.40 117.06 L337.40 117.13 L338.40 117.20 L339.40 117.27 L340.40 117.34 L341.40 117.42 L342.40 117.49 L343.40 117.56 L344.40 117.64 L345.40 117.72 L346.40 117.79 L347.40 117.87 L348.40 117.95 L349.40 118.03 L350.40 118.11 L351.40 118.19 L352.40 118.27 L353.40 118.35 L354.40 118.43 L355.40 118.51 L356.40 118.59 L357.40 118.67 L358.40 118.75 L359.40 118.83 L360.40 118.91 L361.40 118.98 L362.40 119.06 L363.40 119.14 L364.40 119.22 L365.40 119.30 L366.40 119.38 L367.40 119.46 L368.40 119.54 L369.40 119.62 L370.40 119.70 L371.40 119.78 L372.40 119.85 L373.40 119.93 L374.40 120.01 L375.40 120.09 L376.40 120.17 L377.40 120.24 L378.40 120.32 L379.40 120.40 L380.40 120.47 L381.40 120.55 L382.40 120.63 L383.40 120.70 L384.40 120.78 L385.40 120.86 L386.40 120.93 L387.40 121.01 L388.40 121.08 L389.40 121.16 L390.40 121.23 L391.40 121.31 L392.40 121.38 L393.40 121.46 L394.40 121.53 L395.40 121.60 L396.40 121.68 L397.40 121.75 L398.40 121.82 L399.40 121.89 L400.40 121.97 L401.40 122.04 L402.40 122.11 L403.40 122.18 L404.40 122.25 L405.40 122.32 L406.40 122.39 L407.40 122.46 L408.40 122.53 L409.40 122.60 L410.40 122.67 L411.40 122.73 L412.40 122.80 L413.40 122.87 L414.40 122.94 L415.40 123.00 L416.20 123.06" stroke="#0000ff" stroke-width="1.9"/>
<path d="M88.40 108.51 L89.40 107.41 L90.40 106.38 L91.40 105.41 L92.40 104.48 L93.40 103.61 L94.40 102.78 L95.40 101.99 L96.40 101.24 L97.40 100.53 L98.40 99.85 L99.40 99.20 L100.40 98.59 L101.40 98.00 L102.40 97.44 L103.40 96.90 L104.40 96.39 L105.40 95.90 L106.40 95.44 L107.40 94.99 L108.40 94.56 L109.40 94.15 L110.40 93.76 L111.40 93.38 L112.40 93.02 L113.40 92.68 L114.40 92.34 L115.40 92.03 L116.40 91.72 L117.40 91.43 L118.40 91.15 L119.40 90.88 L120.40 90.62 L121.40 90.37 L122.40 90.14 L123.40 89.91 L124.40 89.69 L125.40 89.48 L126.40 89.27 L127.40 89.08 L128.40 88.89 L129.40 88.70 L130.40 88.53 L131.40 88.36 L132.40 88.19 L133.40 88.03 L134.40 87.88 L135.40 87.73 L136.40 87.59 L137.40 87.45 L138.40 87.32 L139.40 87.19 L140.40 87.07 L141.40 86.95 L142.40 86.83 L143.40 86.72 L144.40 86.62 L145.40 86.51 L146.40 86.42 L147.40 86.32 L148.40 86.24 L149.40 86.15 L150.40 86.07 L151.40 85.99 L152.40 85.92 L153.40 85.85 L154.40 85.78 L155.40 85.72 L156.40 85.66 L157.40 85.60 L158.40 85.55 L159.40 85.51 L160.40 85.46 L161.40 85.42 L162.40 85.38 L163.40 85.34 L164.40 85.31 L165.40 85.27 L166.40 85.24 L167.40 85.21 L168.40 85.18 L169.40 85.16 L170.40 85.13 L171.40 85.11 L172.40 85.09 L173.40 85.06 L174.40 85.05 L175.40 85.03 L176.40 85.01 L177.40 85.00 L178.40 84.98 L179.40 84.97 L180.40 84.96 L181.40 84.94 L182.40 84.93 L183.40 84.93 L184.40 84.92 L185.40 84.91 L186.40 84.90 L187.40 84.90 L188.40 84.89 L189.40 84.89 L190.40 84.89 L191.40 84.88 L192.40 84.88 L193.40 84.88 L194.40 84.88 L195.40 84.88 L196.40 84.88 L197.40 84.88 L198.40 84.88 L199.40 84.88 L200.40 84.88 L201.40 84.89 L202.40 84.89 L203.40 84.89 L204.40 84.90 L205.40 84.90 L206.40 84.90 L207.40 84.91 L208.40 84.91 L209.40 84.92 L210.40 84.92 L211.40 84.93 L212.40 84.93 L213.40 84.94 L214.40 84.95 L215.40 84.95 L216.40 84.96 L217.40 84.97 L218.40 84.97 L219.40 84.98 L220.40 84.99 L221.40 84.99 L222.40 85.00 L223.40 85.01 L224.40 85.01 L225.40 85.02 L226.40 85.03 L227.40 85.04 L228.40 85.04 L229.40 85.05 L230.40 85.06 L231.40 85.07 L232.40 85.07 L233.40 85.08 L234.40 85.09 L235.40 85.10 L236.40 85.10 L237.40 85.11 L238.40 85.12 L239.40 85.12 L240.40 85.13 L241.40 85.14 L242.40 85.15 L243.40 85.15 L244.40 85.16 L245.40 85.17 L246.40 85.17 L247.40 85.18 L248.40 85.19 L249.40 85.19 L250.40 85.20 L251.40 85.20 L252.40 85.21 L253.40 85.22 L254.40 85.22 L255.40 85.23 L256.40 85.23 L257.40 85.24 L258.40 85.25 L259.40 85.25 L260.40 85.26 L261.40 85.26 L262.40 85.27 L263.40 85.27 L264.40 85.28 L265.40 85.28 L266.40 85.29 L267.40 85.29 L268.40 85.29 L269.40 85.30 L270.40 85.30 L271.40 85.31 L272.40 85.31 L273.40 85.32 L274.40 85.32 L275.40 85.32 L276.40 85.33 L277.40 85.33 L278.40 85.33 L279.40 85.34 L280.40 85.34 L281.40 85.34 L282.40 85.35 L283.40 85.35 L284.40 85.35 L285.40 85.36 L286.40 85.36 L287.40 85.36 L288.40 85.37 L289.40 85.37 L290.40 85.37 L291.40 85.37 L292.40 85.38 L293.40 85.38 L294.40 85.38 L295.40 85.38 L296.40 85.39 L297.40 85.39 L298.40 85.39 L299.40 85.39 L300.40 85.40 L301.40 85.40 L302.40 85.40 L303.40 85.40 L304.40 85.41 L305.40 85.41 L306.40 85.41 L307.40 85.41 L308.40 85.42 L309.40 85.42 L310.40 85.42 L311.40 85.42 L312.40 85.43 L313.40 85.43 L314.40 85.43 L315.40 85.44 L316.40 85.44 L317.40 85.44 L318.40 85.44 L319.40 85.45 L320.40 85.45 L321.40 85.45 L322.40 85.46 L323.40 85.46 L324.40 85.46 L325.40 85.47 L326.40 85.47 L327.40 85.48 L328.40 85.48 L329.40 85.48 L330.40 85.49 L331.40 85.49 L332.40 85.50 L333.40 85.50 L334.40 85.51 L335.40 85.51 L336.40 85.52 L337.40 85.52 L338.40 85.53 L339.40 85.54 L340.40 85.54 L341.40 85.55 L342.40 85.56 L343.40 85.56 L344.40 85.57 L345.40 85.58 L346.40 85.58 L347.40 85.59 L348.40 85.60 L349.40 85.61 L350.40 85.62 L351.40 85.63 L352.40 85.64 L353.40 85.65 L354.40 85.66 L355.40 85.67 L356.40 85.68 L357.40 85.69 L358.40 85.70 L359.40 85.71 L360.40 85.72 L361.40 85.73 L362.40 85.75 L363.40 85.76 L364.40 85.77 L365.40 85.79 L366.40 85.80 L367.40 85.82 L368.40 85.83 L369.40 85.85 L370.40 85.86 L371.40 85.88 L372.40 85.90 L373.40 85.91 L374.40 85.93 L375.40 85.95 L376.40 85.97 L377.40 85.99 L378.40 86.01 L379.40 86.03 L380.40 86.05 L381.40 86.07 L382.40 86.09 L383.40 86.12 L384.40 86.14 L385.40 86.16 L386.40 86.19 L387.40 86.21 L388.40 86.24 L389.40 86.26 L390.40 86.29 L391.40 86.31 L392.40 86.34 L393.40 86.37 L394.40 86.40 L395.40 86.43 L396.40 86.46 L397.40 86.49 L398.40 86.52 L399.40 86.55 L400.40 86.59 L401.40 86.62 L402.40 86.65 L403.40 86.69 L404.40 86.72 L405.40 86.76 L406.40 86.80 L407.40 86.84 L408.40 86.87 L409.40 86.91 L410.40 86.95 L411.40 86.99 L412.40 87.04 L413.40 87.08 L414.40 87.12 L415.40 87.17 L416.20 87.20" stroke="#ff0000" stroke-width="2.0" stroke-dasharray="9.6 6.63"/>
<path d="M88.40 74.89 L89.40 73.56 L90.40 72.29 L91.40 71.09 L92.40 69.95 L93.40 68.86 L94.40 67.83 L95.40 66.84 L96.40 65.89 L97.40 64.98 L98.40 64.11 L99.40 63.28 L100.40 62.48 L101.40 61.71 L102.40 60.98 L103.40 60.27 L104.40 59.58 L105.40 58.92 L106.40 58.29 L107.40 57.68 L108.40 57.09 L109.40 56.52 L110.40 55.96 L111.40 55.43 L112.40 54.92 L113.40 54.42 L114.40 53.94 L115.40 53.47 L116.40 53.02 L117.40 52.59 L118.40 52.16 L119.40 51.76 L120.40 51.36 L121.40 50.97 L122.40 50.60 L123.40 50.24 L124.40 49.89 L125.40 49.55 L126.40 49.22 L127.40 48.90 L128.40 48.59 L129.40 48.29 L130.40 48.00 L131.40 47.71 L132.40 47.44 L133.40 47.17 L134.40 46.92 L135.40 46.67 L136.40 46.42 L137.40 46.19 L138.40 45.96 L139.40 45.74 L140.40 45.53 L141.40 45.33 L142.40 45.13 L143.40 44.93 L144.40 44.75 L145.40 44.56 L146.40 44.39 L147.40 44.22 L148.40 44.05 L149.40 43.90 L150.40 43.74 L151.40 43.59 L152.40 43.45 L153.40 43.31 L154.40 43.17 L155.40 43.04 L156.40 42.92 L157.40 42.79 L158.40 42.67 L159.40 42.56 L160.40 42.45 L161.40 42.34 L162.40 42.24 L163.40 42.14 L164.40 42.04 L165.40 41.95 L166.40 41.86 L167.40 41.77 L168.40 41.69 L169.40 41.61 L170.40 41.53 L171.40 41.45 L172.40 41.38 L173.40 41.31 L174.40 41.24 L175.40 41.18 L176.40 41.12 L177.40 41.06 L178.40 41.00 L179.40 40.95 L180.40 40.90 L181.40 40.85 L182.40 40.81 L183.40 40.76 L184.40 40.72 L185.40 40.68 L186.40 40.65 L187.40 40.61 L188.40 40.58 L189.40 40.55 L190.40 40.52 L191.40 40.49 L192.40 40.47 L193.40 40.45 L194.40 40.42 L195.40 40.40 L196.40 40.39 L197.40 40.37 L198.40 40.36 L199.40 40.34 L200.40 40.33 L201.40 40.32 L202.40 40.32 L203.40 40.31 L204.40 40.30 L205.40 40.30 L206.40 40.30 L207.40 40.29 L208.40 40.29 L209.40 40.30 L210.40 40.30 L211.40 40.30 L212.40 40.31 L213.40 40.31 L214.40 40.32 L215.40 40.33 L216.40 40.34 L217.40 40.35 L218.40 40.36 L219.40 40.38 L220.40 40.39 L221.40 40.41 L222.40 40.42 L223.40 40.44 L224.40 40.46 L225.40 40.48 L226.40 40.51 L227.40 40.53 L228.40 40.55 L229.40 40.58 L230.40 40.60 L231.40 40.63 L232.40 40.66 L233.40 40.68 L234.40 40.71 L235.40 40.74 L236.40 40.78 L237.40 40.81 L238.40 40.84 L239.40 40.87 L240.40 40.91 L241.40 40.94 L242.40 40.98 L243.40 41.02 L244.40 41.06 L245.40 41.09 L246.40 41.13 L247.40 41.17 L248.40 41.21 L249.40 41.25 L250.40 41.30 L251.40 41.34 L252.40 41.38 L253.40 41.43 L254.40 41.47 L255.40 41.52 L256.40 41.56 L257.40 41.61 L258.40 41.65 L259.40 41.70 L260.40 41.75 L261.40 41.80 L262.40 41.85 L263.40 41.90 L264.40 41.95 L265.40 42.00 L266.40 42.05 L267.40 42.10 L268.40 42.15 L269.40 42.20 L270.40 42.26 L271.40 42.31 L272.40 42.36 L273.40 42.42 L274.40 42.47 L275.40 42.53 L276.40 42.58 L277.40 42.64 L278.40 42.69 L279.40 42.75 L280.40 42.81 L281.40 42.87 L282.40 42.92 L283.40 42.98 L284.40 43.04 L285.40 43.10 L286.40 43.16 L287.40 43.22 L288.40 43.28 L289.40 43.34 L290.40 43.40 L291.40 43.46 L292.40 43.53 L293.40 43.59 L294.40 43.65 L295.40 43.71 L296.40 43.78 L297.40 43.84 L298.40 43.90 L299.40 43.97 L300.40 44.03 L301.40 44.10 L302.40 44.16 L303.40 44.23 L304.40 44.29 L305.40 44.36 L306.40 44.43 L307.40 44.49 L308.40 44.56 L309.40 44.63 L310.40 44.70 L311.40 44.76 L312.40 44.83 L313.40 44.90 L314.40 44.97 L315.40 45.04 L316.40 45.11 L317.40 45.18 L318.40 45.25 L319.40 45.32 L320.40 45.39 L321.40 45.46 L322.40 45.53 L323.40 45.60 L324.40 45.67 L325.40 45.74 L326.40 45.82 L327.40 45.89 L328.40 45.96 L329.40 46.03 L330.40 46.10 L331.40 46.18 L332.40 46.25 L333.40 46.32 L334.40 46.40 L335.40 46.47 L336.40 46.55 L337.40 46.62 L338.40 46.69 L339.40 46.77 L340.40 46.84 L341.40 46.92 L342.40 46.99 L343.40 47.07 L344.40 47.14 L345.40 47.22 L346.40 47.30 L347.40 47.37 L348.40 47.45 L349.40 47.53 L350.40 47.60 L351.40 47.68 L352.40 47.76 L353.40 47.83 L354.40 47.91 L355.40 47.99 L356.40 48.07 L357.40 48.14 L358.40 48.22 L359.40 48.30 L360.40 48.38 L361.40 48.45 L362.40 48.53 L363.40 48.61 L364.40 48.69 L365.40 48.77 L366.40 48.84 L367.40 48.92 L368.40 49.00 L369.40 49.08 L370.40 49.16 L371.40 49.24 L372.40 49.31 L373.40 49.39 L374.40 49.47 L375.40 49.55 L376.40 49.63 L377.40 49.71 L378.40 49.78 L379.40 49.86 L380.40 49.94 L381.40 50.02 L382.40 50.10 L383.40 50.17 L384.40 50.25 L385.40 50.33 L386.40 50.41 L387.40 50.48 L388.40 50.56 L389.40 50.64 L390.40 50.72 L391.40 50.79 L392.40 50.87 L393.40 50.95 L394.40 51.02 L395.40 51.10 L396.40 51.18 L397.40 51.25 L398.40 51.32 L399.40 51.39 L400.40 51.46 L401.40 51.53 L402.40 51.59 L403.40 51.66 L404.40 51.72 L405.40 51.78 L406.40 51.85 L407.40 51.91 L408.40 51.97 L409.40 52.03 L410.40 52.09 L411.40 52.15 L412.40 52.21 L413.40 52.27 L414.40 52.32 L415.40 52.38 L416.20 52.43" stroke="#800080" stroke-width="1.9"/>
</g>

<!-- ticks -->
<path d="M59.96 285.15 v-2.30 M59.96 0.50 v2.30 M71.10 285.15 v-3.50 M71.10 0.50 v3.50 M82.24 285.15 v-2.30 M82.24 0.50 v2.30 M93.39 285.15 v-2.30 M93.39 0.50 v2.30 M104.53 285.15 v-2.30 M104.53 0.50 v2.30 M115.68 285.15 v-2.30 M115.68 0.50 v2.30 M126.82 285.15 v-3.50 M126.82 0.50 v3.50 M137.96 285.15 v-2.30 M137.96 0.50 v2.30 M149.11 285.15 v-2.30 M149.11 0.50 v2.30 M160.25 285.15 v-2.30 M160.25 0.50 v2.30 M171.40 285.15 v-2.30 M171.40 0.50 v2.30 M182.54 285.15 v-3.50 M182.54 0.50 v3.50 M193.68 285.15 v-2.30 M193.68 0.50 v2.30 M204.83 285.15 v-2.30 M204.83 0.50 v2.30 M215.97 285.15 v-2.30 M215.97 0.50 v2.30 M227.12 285.15 v-2.30 M227.12 0.50 v2.30 M238.26 285.15 v-3.50 M238.26 0.50 v3.50 M249.40 285.15 v-2.30 M249.40 0.50 v2.30 M260.55 285.15 v-2.30 M260.55 0.50 v2.30 M271.69 285.15 v-2.30 M271.69 0.50 v2.30 M282.84 285.15 v-2.30 M282.84 0.50 v2.30 M293.98 285.15 v-3.50 M293.98 0.50 v3.50 M305.12 285.15 v-2.30 M305.12 0.50 v2.30 M316.27 285.15 v-2.30 M316.27 0.50 v2.30 M327.41 285.15 v-2.30 M327.41 0.50 v2.30 M338.56 285.15 v-2.30 M338.56 0.50 v2.30 M349.70 285.15 v-3.50 M349.70 0.50 v3.50 M360.84 285.15 v-2.30 M360.84 0.50 v2.30 M371.99 285.15 v-2.30 M371.99 0.50 v2.30 M383.13 285.15 v-2.30 M383.13 0.50 v2.30 M394.28 285.15 v-2.30 M394.28 0.50 v2.30 M405.42 285.15 v-3.50 M405.42 0.50 v3.50 M416.56 285.15 v-2.30 M416.56 0.50 v2.30 M427.71 285.15 v-2.30 M427.71 0.50 v2.30 M438.85 285.15 v-2.30 M438.85 0.50 v2.30 M450.00 285.15 v-2.30 M450.00 0.50 v2.30 M455.40 283.47 h-2.30 M455.40 275.78 h-2.30 M455.40 268.09 h-2.30 M455.40 260.40 h-3.50 M455.40 252.71 h-2.30 M455.40 245.02 h-2.30 M455.40 237.33 h-2.30 M455.40 229.64 h-2.30 M455.40 221.95 h-3.50 M455.40 214.26 h-2.30 M455.40 206.57 h-2.30 M455.40 198.88 h-2.30 M455.40 191.19 h-2.30 M455.40 183.50 h-3.50 M455.40 175.81 h-2.30 M455.40 168.12 h-2.30 M455.40 160.43 h-2.30 M455.40 152.74 h-2.30 M455.40 145.05 h-3.50 M455.40 137.36 h-2.30 M455.40 129.67 h-2.30 M455.40 121.98 h-2.30 M455.40 114.29 h-2.30 M455.40 106.60 h-3.50 M455.40 98.91 h-2.30 M455.40 91.22 h-2.30 M455.40 83.53 h-2.30 M455.40 75.84 h-2.30 M455.40 68.15 h-3.50 M455.40 60.46 h-2.30 M455.40 52.77 h-2.30 M455.40 45.08 h-2.30 M455.40 37.39 h-2.30 M455.40 29.70 h-3.50 M455.40 22.01 h-2.30 M455.40 14.32 h-2.30 M455.40 6.63 h-2.30" stroke="#5a5a5a" stroke-width="0.7" fill="none"/>
<path d="M48.90 285.15 h3.50 M48.90 253.82 h2.30 M48.90 231.60 h2.30 M48.90 214.36 h3.50 M48.90 200.27 h2.30 M48.90 188.36 h2.30 M48.90 178.04 h2.30 M48.90 168.94 h2.30 M48.90 160.80 h3.50 M48.90 107.25 h3.50 M48.90 75.92 h2.30 M48.90 53.70 h2.30 M48.90 36.46 h3.50 M48.90 22.37 h2.30 M48.90 10.46 h2.30" stroke="#9a9a9a" stroke-width="0.6" fill="none"/>

<!-- frame -->
<g fill="none" stroke-linecap="square">
<path d="M48.9 285.15 V0.5" stroke="#424242" stroke-width="1.8"/>
<path d="M48.9 285.15 H455.4" stroke="#424242" stroke-width="1.8"/>
<path d="M48.0 0.5 H455.79999999999995" stroke="#000000" stroke-width="1.0" stroke-linecap="butt"/>
<path d="M455.5 0 V285.75" stroke="#0a0a0a" stroke-width="1.1" stroke-linecap="butt"/>
</g>

<!-- tick labels -->
<g font-family="Liberation Sans, sans-serif" font-size="15.7" fill="#000000">
<text x="71.10" y="303.4" text-anchor="middle">0.6</text>
<text x="126.82" y="303.4" text-anchor="middle">0.7</text>
<text x="182.54" y="303.4" text-anchor="middle">0.8</text>
<text x="238.26" y="303.4" text-anchor="middle">0.9</text>
<text x="293.98" y="303.4" text-anchor="middle">1.0</text>
<text x="349.70" y="303.4" text-anchor="middle">1.1</text>
<text x="405.42" y="303.4" text-anchor="middle">1.2</text>
<text x="45.2" y="291.00" text-anchor="end">2</text>
<text x="45.2" y="220.21" text-anchor="end">5</text>
<text x="45.2" y="166.65" text-anchor="end">10</text>
<text x="45.2" y="113.10" text-anchor="end">20</text>
<text x="45.2" y="42.31" text-anchor="end">50</text>
</g>

<!-- axis labels -->
<g font-family="Liberation Sans, sans-serif" fill="#0a0a0a" stroke="#0a0a0a" stroke-width="0.18">
<text x="210.39" y="330.80" font-size="19.00" font-style="italic" textLength="6.80" lengthAdjust="spacingAndGlyphs">r</text>
<text x="216.96" y="334.00" font-size="14.30" font-style="italic" textLength="8.37" lengthAdjust="spacingAndGlyphs">g</text>
<text x="230.35" y="330.80" font-size="19.00" textLength="11.74" lengthAdjust="spacingAndGlyphs">=</text>
<text x="247.15" y="330.80" font-size="19.00" font-style="italic" textLength="10.10" lengthAdjust="spacingAndGlyphs">g</text>
<text x="258.58" y="334.00" font-size="14.30" font-style="italic" textLength="10.03" lengthAdjust="spacingAndGlyphs">R</text>
<text x="269.10" y="330.80" font-size="19.00" textLength="4.41" lengthAdjust="spacingAndGlyphs">/</text>
<text x="274.76" y="330.80" font-size="19.00" font-style="italic" textLength="10.00" lengthAdjust="spacingAndGlyphs">g</text>
<text x="285.57" y="334.00" font-size="14.30" font-style="italic" textLength="7.90" lengthAdjust="spacingAndGlyphs">L</text>
<text transform="translate(16.5 177.4) rotate(-90)" font-size="18"><tspan font-style="italic">v</tspan><tspan font-style="italic" font-size="14" dy="3.4">R</tspan><tspan dy="-3.4" dx="-1.0"> [TeV]</tspan></text>
</g>

<!-- in-plot labels -->
<g font-family="Liberation Serif, serif" fill="#060606">
<text x="195.04" y="25.70" font-size="19.00" textLength="33.73" lengthAdjust="spacingAndGlyphs">U(1)</text>
<text x="229.92" y="29.00" font-size="14.10" textLength="25.71" lengthAdjust="spacingAndGlyphs">B−L</text>
<text x="261.56" y="25.70" font-size="19.00" textLength="48.21" lengthAdjust="spacingAndGlyphs">model</text>
<text x="218.31" y="59.25" font-size="19.00" textLength="18.07" lengthAdjust="spacingAndGlyphs">50</text>
<text x="240.57" y="59.25" font-size="19.00" textLength="32.57" lengthAdjust="spacingAndGlyphs">TeV</text>
<text x="217.60" y="107.90" font-size="19.00" textLength="18.80" lengthAdjust="spacingAndGlyphs">20</text>
<text x="240.57" y="107.90" font-size="19.00" textLength="32.57" lengthAdjust="spacingAndGlyphs">TeV</text>
<text x="219.42" y="159.30" font-size="19.00" textLength="16.91" lengthAdjust="spacingAndGlyphs">10</text>
<text x="240.57" y="159.30" font-size="19.00" textLength="32.57" lengthAdjust="spacingAndGlyphs">TeV</text>
<text x="200.10" y="233.40" font-size="17.40" textLength="16.13" lengthAdjust="spacingAndGlyphs">M</text>
<text x="215.90" y="235.70" font-size="12.80" font-style="italic" textLength="8.96" lengthAdjust="spacingAndGlyphs">Z</text>
<text x="224.43" y="238.90" font-size="10.80" textLength="6.49" lengthAdjust="spacingAndGlyphs">R</text>
<text x="236.88" y="235.50" font-size="19.50" textLength="11.52" lengthAdjust="spacingAndGlyphs">=</text>
<text x="252.44" y="235.10" font-size="17.40" textLength="9.26" lengthAdjust="spacingAndGlyphs">5</text>
<text x="268.39" y="235.10" font-size="17.40" textLength="30.08" lengthAdjust="spacingAndGlyphs">TeV</text>
</g>
<g font-family="Liberation Serif, serif" fill="#ff0000">
<text x="337.92" y="81.80" font-size="17.20" textLength="60.13" lengthAdjust="spacingAndGlyphs">FCC−hh</text>
<text x="334.17" y="202.00" font-size="17.80" textLength="67.98" lengthAdjust="spacingAndGlyphs">HL−LHC</text>
<text transform="translate(74.9 204.9) rotate(-90)" font-size="18">perturbative limit</text>
<text transform="translate(440.2 205.1) rotate(-90)" font-size="18">perturbative limit</text>
</g>
<g font-family="Liberation Serif, serif" fill="#ff8000">
<text x="346.77" y="261.30" font-size="15.60" textLength="47.02" lengthAdjust="spacingAndGlyphs">LHC13</text>
</g>
</svg>
</body>
</html>
